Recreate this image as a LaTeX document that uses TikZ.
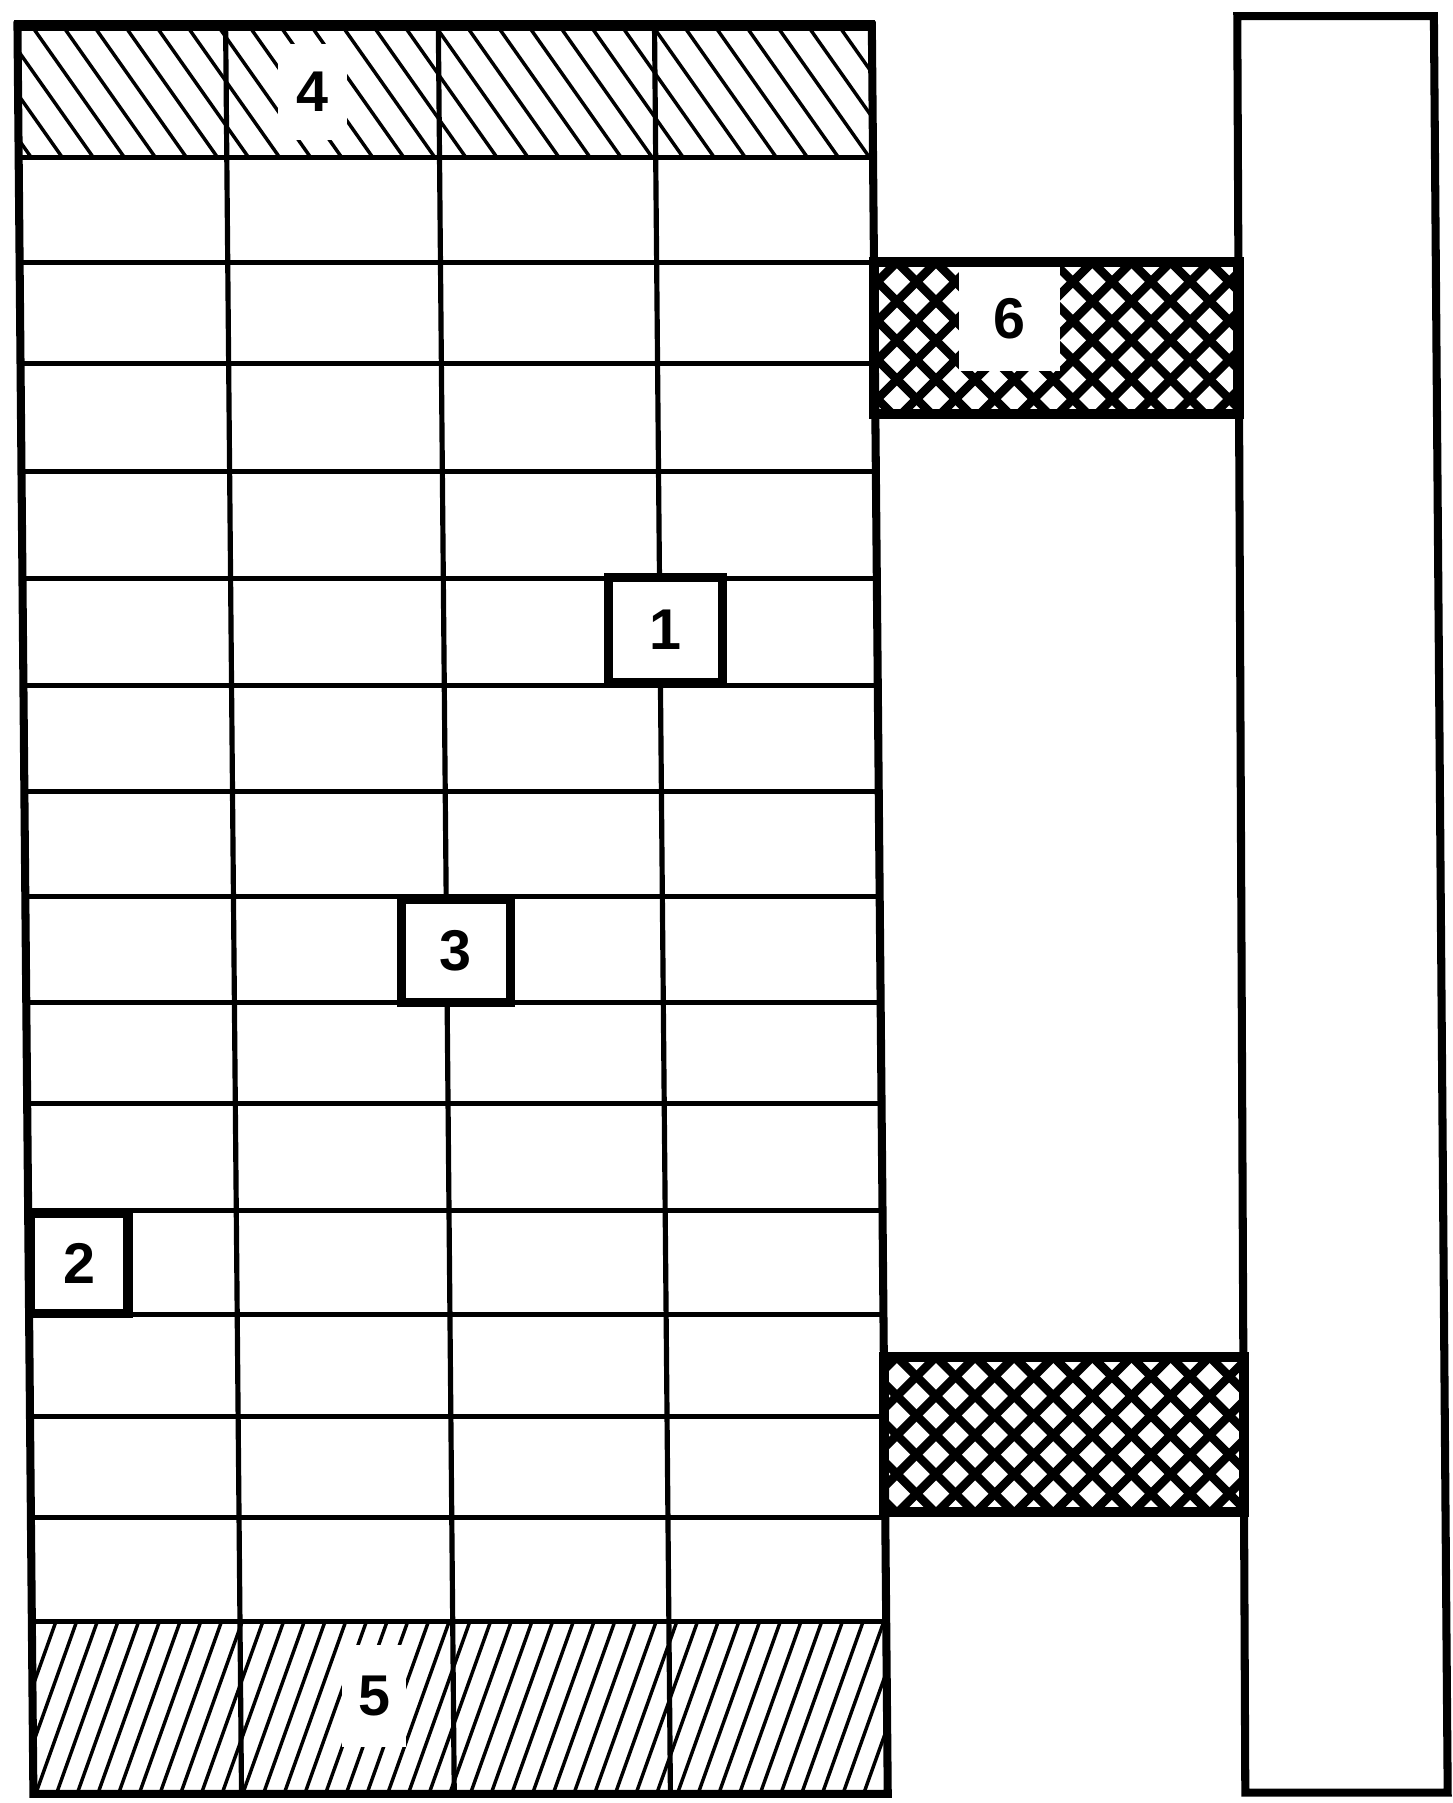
\documentclass[tikz,border=0pt]{standalone}
\usepackage{fontspec}
\setmainfont{Liberation Sans}

\begin{document}
\begin{tikzpicture}[
    x=1pt, y=-1pt,
    grid/.style={line width=4.5pt},
    frame/.style={line width=7pt, line join=miter},
    band/.style={line width=9pt, line join=miter},
    hatch/.style={line width=3pt},
    cross/.style={line width=7.5pt},
    num/.style={font=\fontsize{50}{50}\selectfont\bfseries},
    knock/.style={num, fill=white, inner sep=0pt},
    numbox/.style={num, draw, line width=8pt, fill=white, inner sep=0pt},
]
\useasboundingbox (0,0) rectangle (1263,1568);
% cross hatched cushions
\foreach \xa/\ya/\xb/\yb in {760/228/1077/360, 769/1180/1082/1315} {
  \begin{scope}
    \clip (\xa,\ya) rectangle (\xb,\yb);
    \foreach \i in {0,...,22} {
      \draw[cross] (600+\i*34,\ya-10) -- ++(160,160);
      \draw[cross] (620+\i*34,\ya-10) -- ++(-160,160);
    }
  \end{scope}
}
\node[knock, minimum width=88pt, minimum height=92pt] (l6) at (878,277) {6};
\draw[band] (760,228) rectangle (1077,360);
\draw[band] (769,1180) rectangle (1082,1315);
\draw[frame] (1076,14) -- (1247,14) -- (1259,1559) -- (1083,1559) -- cycle;
\begin{scope}[xslant=-0.009]
% hatching, top and bottom course
\begin{scope}
  \clip (15,22) rectangle (758,137);
  \foreach \i in {-6,...,30} \draw[hatch] (\i*27,22) -- ++(80,115);
\end{scope}
\begin{scope}
  \clip (15,1410) rectangle (758,1560);
  \foreach \i in {0,...,48} \draw[hatch] (\i*18,1410) -- ++(-55,150);
\end{scope}
\node[knock, minimum width=60pt, minimum height=84pt] (l4) at (271,80) {4};
\node[knock, minimum width=56pt, minimum height=88pt] (l5) at (312,1475) {5};
% courses and joints
\foreach \y in {137,228,316,410,503,596,688,780,872,960,1053,1143,1232,1320,1410}
  \draw[grid] (15,\y) -- (758,\y);
\foreach \x in {196,381,569} \draw[grid] (\x,22) -- (\x,1560);
\draw[frame] (15,22) rectangle (758,1560);
\draw[line width=10pt] (12,22) -- (761,22);
% marked units
\node[numbox, minimum width=99pt, minimum height=92pt] (b1) at (574,548) {1};
\node[numbox, minimum width=85pt, minimum height=87pt] (b2) at (59,1099) {2};
\node[numbox, minimum width=95pt, minimum height=89pt] (b3) at (389,827) {3};
\end{scope}
\end{tikzpicture}
\end{document}
